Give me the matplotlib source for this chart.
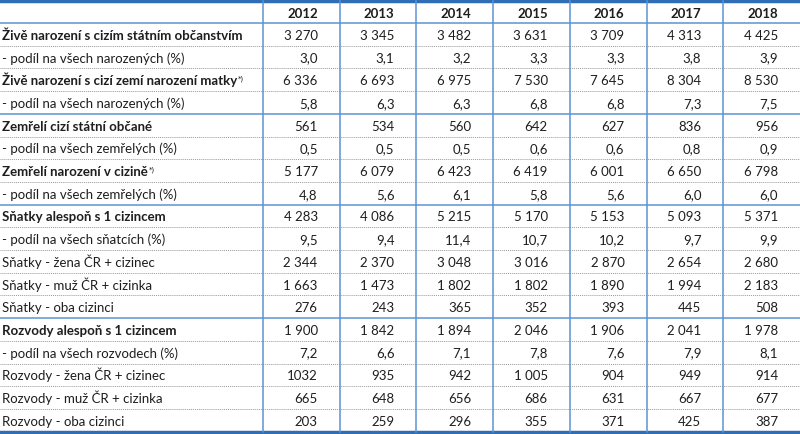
import matplotlib.pyplot as plt

plt.rcParams['font.family'] = ['Lato', 'DejaVu Sans']

years = ['2012', '2013', '2014', '2015', '2016', '2017', '2018']

labels = [
    'Živě narození s cizím státním občanstvím',
    '- podíl na všech narozených (%)',
    'Živě narození s cizí zemí narození matky',
    '- podíl na všech narozených (%)',
    'Zemřelí cizí státní občané',
    '- podíl na všech zemřelých (%)',
    'Zemřelí narození v cizině',
    '- podíl na všech zemřelých (%)',
    'Sňatky alespoň s 1 cizincem',
    '- podíl na všech sňatcích (%)',
    'Sňatky - žena ČR + cizinec',
    'Sňatky - muž ČR + cizinka',
    'Sňatky - oba cizinci',
    'Rozvody alespoň s 1 cizincem',
    '- podíl na všech rozvodech (%)',
    'Rozvody - žena ČR + cizinec',
    'Rozvody - muž ČR + cizinka',
    'Rozvody - oba cizinci',
]

values = [
    [3270, 3345, 3482, 3631, 3709, 4313, 4425],
    [3.0, 3.1, 3.2, 3.3, 3.3, 3.8, 3.9],
    [6336, 6693, 6975, 7530, 7645, 8304, 8530],
    [5.8, 6.3, 6.3, 6.8, 6.8, 7.3, 7.5],
    [561, 534, 560, 642, 627, 836, 956],
    [0.5, 0.5, 0.5, 0.6, 0.6, 0.8, 0.9],
    [5177, 6079, 6423, 6419, 6001, 6650, 6798],
    [4.8, 5.6, 6.1, 5.8, 5.6, 6.0, 6.0],
    [4283, 4086, 5215, 5170, 5153, 5093, 5371],
    [9.5, 9.4, 11.4, 10.7, 10.2, 9.7, 9.9],
    [2344, 2370, 3048, 3016, 2870, 2654, 2680],
    [1663, 1473, 1802, 1802, 1890, 1994, 2183],
    [276, 243, 365, 352, 393, 445, 508],
    [1900, 1842, 1894, 2046, 1906, 2041, 1978],
    [7.2, 6.6, 7.1, 7.8, 7.6, 7.9, 8.1],
    [1032, 935, 942, 1005, 904, 949, 914],
    [665, 648, 656, 686, 631, 667, 677],
    [203, 259, 296, 355, 371, 425, 387],
]

bold_rows = [0, 2, 4, 6, 8, 13]
note_rows = [2, 6]          # rows with the *) footnote mark
group_ends = [3, 7, 12]     # solid blue line below these rows
plain_cells = [(15, 0)]     # printed without thousands separator in the source


def fmt(v, r, c):
    if isinstance(v, float):
        return f'{v:.1f}'.replace('.', ',')
    if (r, c) in plain_cells:
        return str(v)
    return f'{v:,}'.replace(',', ' ')


W, H = 800, 435
fig = plt.figure(figsize=(W / 100, H / 100), dpi=100)
ax = fig.add_axes([0, 0, 1, 1])
ax.set_xlim(0, W)
ax.set_ylim(H, 0)
ax.axis('off')

dark_blue = '#2f6db5'
light_blue = '#5b93d3'
txt = '#1e1e1e'
fs = 9.5

first_col = 263
col_w = (W - first_col) / len(years)
top, head_h, row_h = 2, 22, 22.7
bottom = top + head_h + row_h * len(labels)
base_off = 4.5   # baseline below row centre

# header
for c, y in enumerate(years):
    ax.text(first_col + (c + 1) * col_w - 22, top + head_h / 2 + base_off, y,
            ha='right', va='baseline', fontsize=fs, fontweight='bold', color=txt)

renderer = fig.canvas.get_renderer()
for r, lab in enumerate(labels):
    yc = top + head_h + (r + 0.5) * row_h + base_off
    w = 'bold' if r in bold_rows else 'normal'
    t = ax.text(2, yc, lab, ha='left', va='baseline', fontsize=fs,
                fontweight=w, color=txt)
    if r in note_rows:
        bb = t.get_window_extent(renderer)
        ax.text(bb.x1 + 1, yc - 5, '*)', ha='left', va='baseline',
                fontsize=5, color=txt, family='DejaVu Sans')
    for c, v in enumerate(values[r]):
        ax.text(first_col + (c + 1) * col_w - 22, yc, fmt(v, r, c),
                ha='right', va='baseline', fontsize=fs, color=txt)
    yb = top + head_h + (r + 1) * row_h
    if r == len(labels) - 1:
        continue
    if r in group_ends:
        ax.plot([0, W], [yb, yb], color=light_blue, lw=1.1)
    else:
        ax.plot([0, W], [yb, yb], color='#9a9a9a', lw=0.7, ls=(0, (1, 1)))

# lines
ax.plot([0, W], [top + head_h, top + head_h], color=light_blue, lw=1.1)
ax.plot([0, W], [top, top], color=dark_blue, lw=2.5)
ax.plot([0, W], [bottom, bottom], color=dark_blue, lw=2.5)
for c in range(len(years)):
    x = first_col + c * col_w
    ax.plot([x, x], [top, bottom], color=light_blue, lw=1.1)

fig.savefig('out.png', dpi=100)
